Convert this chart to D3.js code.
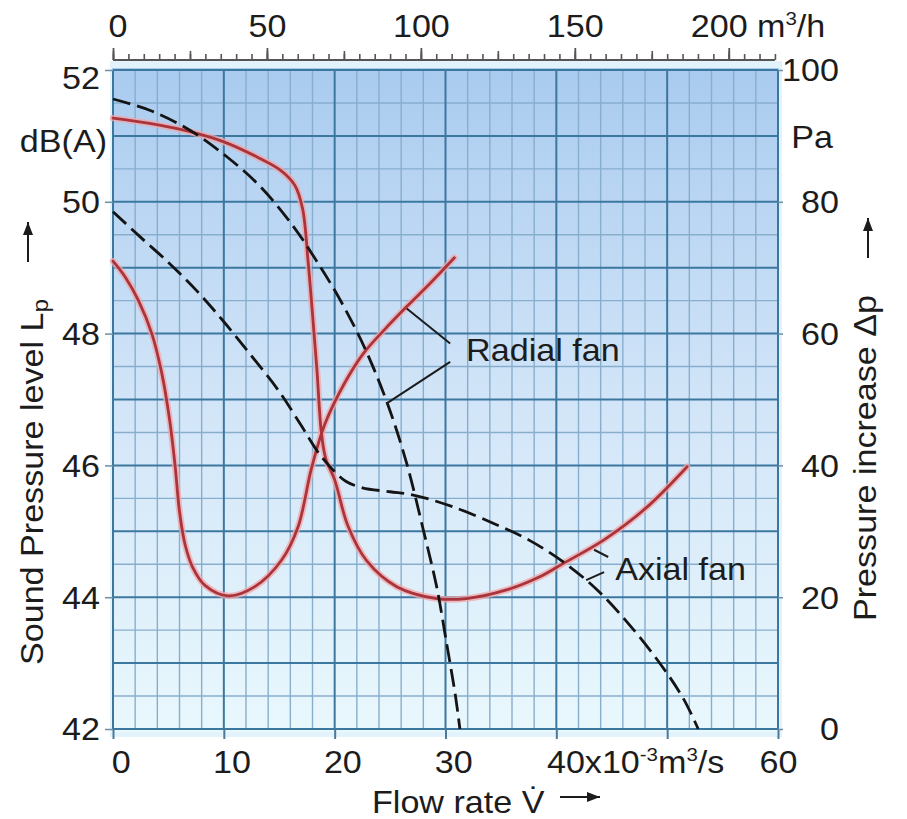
<!DOCTYPE html>
<html><head><meta charset="utf-8">
<script src="https://cdn.jsdelivr.net/npm/d3@7"></script>
<style>
body{margin:0;background:#fff}
svg{display:block}
text{font-family:"Liberation Sans",Arial,Helvetica,sans-serif;fill:#1c1c1c}
</style></head>
<body><svg id="c" width="907" height="819"></svg>
<script>
// ---------- data ----------
const flowTicks = [0, 10, 20, 30, 40, 50, 60];
const flowTickLabels = ["0", "10", "20", "30", "40", "", "60"];
const dbTicks = [42, 44, 46, 48, 50, 52];
const paTicks = [0, 20, 40, 60, 80, 100];
const hourTicks = [0, 50, 100, 150, 200];
const hourTickLabels = ["0", "50", "100", "150", "200"];

const radialSoundFlow = [0, 1.1, 2.3, 3.5, 4.4, 5.1, 5.6, 6.0, 6.5, 7.2, 8.3, 10.4, 12.8, 15.2, 16.7, 17.9, 19.1, 20.9, 22.6, 24.5, 26.5, 28.6, 30.8];
const radialSoundDb   = [49.1, 48.86, 48.5, 48.0, 47.4, 46.7, 46.0, 45.3, 44.8, 44.45, 44.18, 44.02, 44.16, 44.56, 45.07, 45.95, 46.62, 47.25, 47.7, 48.06, 48.41, 48.76, 49.15];

const axialSoundFlow = [0, 3.3, 6.3, 10, 13, 15.1, 16.4, 17.1, 17.6, 18.0, 18.4, 18.8, 19.2, 20.0, 21.2, 22.9, 25.6, 29.2, 31.9, 35.5, 38.5, 40.6, 44.3, 48.2, 51.8];
const axialSoundDb   = [51.27, 51.19, 51.09, 50.91, 50.68, 50.48, 50.25, 49.9, 49.1, 48.3, 47.45, 46.5, 46.1, 45.78, 45.08, 44.55, 44.16, 43.98, 43.98, 44.11, 44.31, 44.51, 44.87, 45.37, 45.98];

const radialPressFlow = [0, 3.3, 6.9, 10.3, 13.3, 16.3, 18.3, 20.5, 22.8, 24.8, 26.5, 28.0, 29.2, 30.1, 30.9, 31.3];
const radialPressPa   = [95.6, 93.9, 90.9, 86.8, 82.3, 76.2, 71.2, 65.1, 57.5, 49.2, 40.3, 30.2, 21.6, 13.0, 5.0, 0];

const axialPressFlow = [0, 2.5, 5, 7.5, 10, 12.5, 15, 17, 18.5, 19.8, 21, 22.5, 25, 27.1, 30.7, 34.6, 37.5, 40.5, 43.5, 46.5, 49.5, 51.5, 52.8];
const axialPressPa   = [78.5, 74.6, 70.8, 66.6, 61.8, 56.6, 51.2, 46.0, 42.0, 39.4, 37.6, 36.6, 36.0, 35.5, 33.7, 31.0, 28.7, 25.5, 21.4, 16.0, 9.6, 4.5, 0];

// annotation anchors in (flow, dB) units
const radialLeaders = [[[26.5, 48.38], [30.42, 47.85]], [[30.42, 47.57], [24.7, 46.94]]];
const axialLeaders  = [[[43.41, 44.72], [44.68, 44.61]], [[42.69, 44.26], [44.31, 44.38]]];
const labelNames = ["Radial fan", "Axial fan"];
const labelFlow  = [31.86, 45.31];
const labelDb    = [47.58, 44.26];

// ---------- setup ----------
const svg = d3.select("#c");
const FS = 31, SX = 1.1;
const x = d3.scaleLinear().domain([0, 60]).range([113, 778]);
const yL = d3.scaleLinear().domain([42, 52]).range([729, 70]);
const yR = d3.scaleLinear().domain([0, 100]).range([729, 70]);
const xTop = d3.scaleLinear().domain([0, 216]).range([113, 778]);

const defs = svg.append("defs");
const grad = defs.append("linearGradient").attr("id", "bg").attr("x1", 0).attr("y1", 0).attr("x2", 0).attr("y2", 1);
grad.selectAll("stop").data([[0, "#a9cbef"], [0.5, "#d2e5f8"], [1, "#e9f8fd"]])
  .join("stop").attr("offset", d => d[0]).attr("stop-color", d => d[1]);

svg.append("rect").attr("x", 110).attr("y", 61).attr("width", 672).attr("height", 676).attr("fill", "#e2f3fb");
svg.append("rect").attr("x", x(0) - 1).attr("y", yL(52) - 2).attr("width", x(60) - x(0) + 2)
  .attr("height", yL(42) - yL(52) + 5).attr("fill", "url(#bg)");

// ---------- grid ----------
const grid = svg.append("g");
const minorX = d3.range(0, 60.01, 2).filter(v => v % 10 !== 0);
const majorX = d3.range(0, 60.01, 10);
const minorY = d3.range(42.5, 52, 1);
const majorY = d3.range(42, 52.01, 1);
grid.selectAll(".vx").data(minorX).join("line")
  .attr("x1", d => x(d)).attr("x2", d => x(d)).attr("y1", yL(52)).attr("y2", yL(42))
  .attr("stroke", "#88aecd").attr("stroke-width", 1.4);
grid.selectAll(".hy").data(minorY).join("line")
  .attr("x1", x(0)).attr("x2", x(60)).attr("y1", d => yL(d)).attr("y2", d => yL(d))
  .attr("stroke", "#88aecd").attr("stroke-width", 1.4);
grid.selectAll(".VX").data(majorX).join("line")
  .attr("x1", d => x(d)).attr("x2", d => x(d)).attr("y1", yL(52)).attr("y2", yL(42))
  .attr("stroke", "#3c77a0").attr("stroke-width", 2);
grid.selectAll(".HY").data(majorY).join("line")
  .attr("x1", x(0)).attr("x2", x(60)).attr("y1", d => yL(d)).attr("y2", d => yL(d))
  .attr("stroke", "#3c77a0").attr("stroke-width", 2);

// ---------- curves ----------
const zip = (a, b) => a.map((v, i) => [v, b[i]]);
const lineDb = d3.line().x(d => x(d[0])).y(d => yL(d[1])).curve(d3.curveCatmullRom.alpha(0.5));
const linePa = d3.line().x(d => x(d[0])).y(d => yR(d[1])).curve(d3.curveCatmullRom.alpha(0.5));

const soundSeries = [zip(radialSoundFlow, radialSoundDb), zip(axialSoundFlow, axialSoundDb)];
const pressSeries = [zip(radialPressFlow, radialPressPa), zip(axialPressFlow, axialPressPa)];

svg.append("g").selectAll("path").data(soundSeries).join("path")
  .attr("d", lineDb).attr("fill", "none").attr("stroke", "#f2a5a8").attr("stroke-width", 6.5)
  .attr("stroke-opacity", 0.75).attr("stroke-linecap", "round");
svg.append("g").selectAll("path").data(soundSeries).join("path")
  .attr("d", lineDb).attr("fill", "none").attr("stroke", "#aa343b").attr("stroke-width", 2.8)
  .attr("stroke-linecap", "round");
svg.append("g").selectAll("path").data(pressSeries).join("path")
  .attr("d", linePa).attr("fill", "none").attr("stroke", "#141414").attr("stroke-width", 2.8)
  .attr("stroke-dasharray", "18,7");

// ---------- annotations ----------
const leaders = radialLeaders.concat(axialLeaders);
svg.append("g").selectAll("line").data(leaders).join("line")
  .attr("x1", d => x(d[0][0])).attr("y1", d => yL(d[0][1]))
  .attr("x2", d => x(d[1][0])).attr("y2", d => yL(d[1][1]))
  .attr("stroke", "#1c1c1c").attr("stroke-width", 2);

function stext(g, px, py, anchor, rot) {
  return g.append("text")
    .attr("transform", `translate(${px},${py})` + (rot ? ` rotate(${rot})` : "") + ` scale(${SX},1)`)
    .attr("text-anchor", anchor || "start").attr("font-size", FS);
}
labelNames.forEach((t, i) => stext(svg, x(labelFlow[i]), yL(labelDb[i]), "start").text(t));

// ---------- axes ----------
function stretchAxisText(g) {
  g.selectAll("text").each(function () {
    const t = d3.select(this);
    const tx = +t.attr("x") || 0;
    t.attr("x", 0).attr("transform", `translate(${tx},0) scale(${SX},1)`);
  });
}

// bottom
const gB = svg.append("g").attr("transform", `translate(0,${yL(42)})`)
  .call(d3.axisBottom(x).tickValues(flowTicks).tickSize(10).tickFormat((d, i) => flowTickLabels[i]));
gB.select(".domain").remove();
gB.selectAll(".tick line").attr("stroke", "#4a7a98").attr("stroke-width", 2);
gB.selectAll("text").attr("font-size", FS).attr("font-family", null).attr("fill", "#1c1c1c")
  .attr("y", 44).attr("dy", 0)
  .attr("dx", (d, i) => i < flowTicks.length - 1 ? 7 : 0);
gB.selectAll("text").filter(d => d === 40).each(function () {
  const t = d3.select(this);
  t.text(null).attr("text-anchor", "start").attr("dx", -9);
  t.append("tspan").text("40x10");
  t.append("tspan").attr("font-size", FS * 0.6).attr("dy", -12).text("-3");
  t.append("tspan").attr("dy", 12).text("m");
  t.append("tspan").attr("font-size", FS * 0.6).attr("dy", -12).text("3");
  t.append("tspan").attr("dy", 12).text("/s");
});
stretchAxisText(gB);

// left
const gL = svg.append("g").attr("transform", `translate(${x(0)},0)`)
  .call(d3.axisLeft(yL).tickValues(dbTicks).tickSize(8).tickPadding(5));
gL.select(".domain").remove();
gL.selectAll(".tick line").attr("stroke", "#6f8ea3").attr("stroke-width", 1.5);
gL.selectAll("text").attr("font-size", FS).attr("font-family", null).attr("fill", "#1c1c1c")
  .attr("dy", d => d === 52 ? "0.6em" : "0.35em");
stretchAxisText(gL);

// right
const gR = svg.append("g").attr("transform", `translate(${x(60)},0)`)
  .call(d3.axisRight(yR).tickValues(paTicks).tickSize(5).tickPadding(56));
gR.select(".domain").remove();
gR.selectAll(".tick line").attr("stroke", "#6f8ea3").attr("stroke-width", 1.5);
gR.selectAll("text").attr("font-size", FS).attr("font-family", null).attr("fill", "#1c1c1c")
  .attr("text-anchor", "end").attr("dy", "0.35em");
stretchAxisText(gR);

// top (m3/h)
const gT = svg.append("g").attr("transform", "translate(0,60)");
gT.append("line").attr("x1", xTop(0)).attr("x2", xTop(215)).attr("y1", 0).attr("y2", 0)
  .attr("stroke", "#555").attr("stroke-width", 2);
[[d3.range(0, 216, 5), 6], [d3.range(0, 216, 25), 9]].forEach(([vals, size]) => {
  const a = gT.append("g").call(d3.axisTop(xTop).tickValues(vals).tickSize(size).tickFormat(""));
  a.select(".domain").remove();
  a.selectAll(".tick line").attr("stroke", "#555").attr("stroke-width", 1.6);
});
const gTL = gT.append("g").call(d3.axisTop(xTop).tickValues(hourTicks).tickSize(12).tickPadding(11)
  .tickFormat((d, i) => hourTickLabels[i]));
gTL.select(".domain").remove();
gTL.selectAll(".tick line").attr("stroke", "#555").attr("stroke-width", 1.8);
gTL.selectAll("text").attr("font-size", FS).attr("font-family", null).attr("fill", "#1c1c1c").attr("dy", 0)
  .attr("dx", d => d === 0 ? 4 : 0);
gTL.selectAll("text").filter(d => d === 200).each(function () {
  const t = d3.select(this);
  t.text(null).attr("text-anchor", "start").attr("dx", -35);
  t.append("tspan").text("200 m");
  t.append("tspan").attr("font-size", FS * 0.6).attr("dy", -12).text("3");
  t.append("tspan").attr("dy", 12).text("/h");
});
stretchAxisText(gTL);

// unit labels
stext(svg, 107, 152, "end").text("dB(A)");
stext(svg, 833, 148, "end").text("Pa");

// axis titles
const lt = stext(svg, 43, 665, "start", -90);
lt.append("tspan").text("Sound Pressure level L");
lt.append("tspan").attr("font-size", FS * 0.72).attr("dy", 5).text("p");

stext(svg, 876, 621, "start", -90).text("Pressure increase \u0394p");

stext(svg, 372, 813, "start").text("Flow rate V\u0307");

// arrows
function arrow(x1, y1, x2, y2) {
  const g = svg.append("g");
  g.append("line").attr("x1", x1).attr("y1", y1).attr("x2", x2).attr("y2", y2)
    .attr("stroke", "#1c1c1c").attr("stroke-width", 2);
  const ang = Math.atan2(y2 - y1, x2 - x1) * 180 / Math.PI;
  g.append("path").attr("d", "M0,0 L-13,-5 L-13,5 Z").attr("fill", "#1c1c1c")
    .attr("transform", `translate(${x2},${y2}) rotate(${ang})`);
}
arrow(28, 262, 28, 222);
arrow(868, 258, 868, 218);
arrow(560, 797, 600, 797);
</script>
</body></html>
